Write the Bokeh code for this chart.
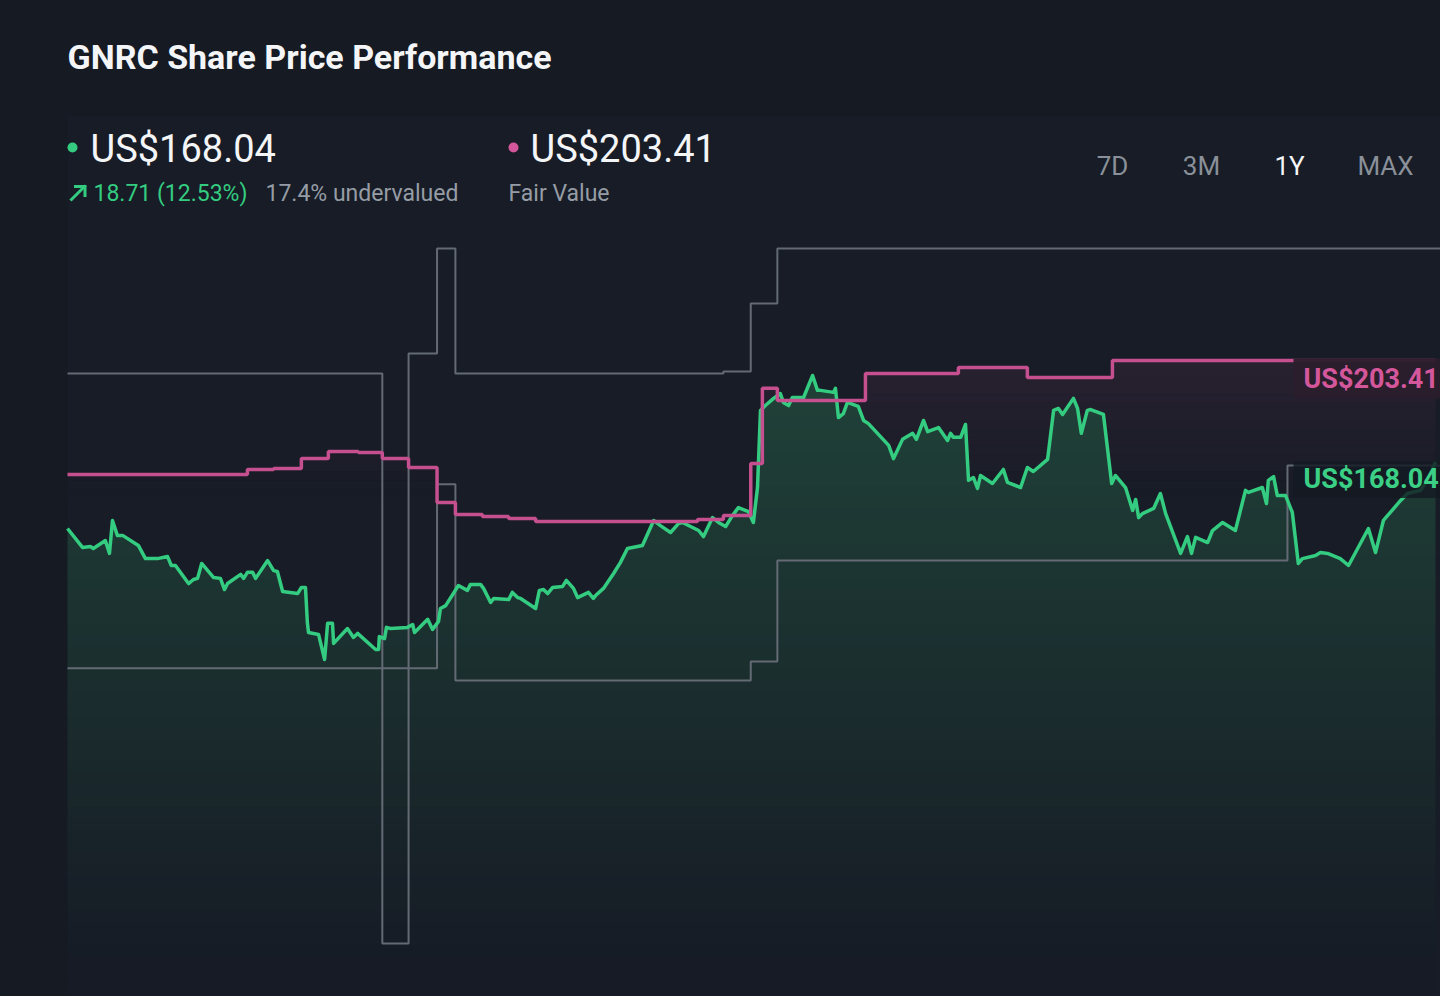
import numpy as np
from bokeh.plotting import figure
from bokeh.models import Range1d
from bokeh.core.properties import value
from bokeh.embed import file_html
from bokeh.resources import INLINE

# ---------------- data ----------------
price_days = [0, 4.0, 6.1, 6.9, 10.1, 11.2, 12.0, 13.3, 14.7, 18.9, 20.8, 24.0, 26.7, 27.7, 28.8, 32.3, 33.6, 34.7, 35.8, 39.0,
              40.8, 41.9, 42.7, 46.2, 47.0, 48.0, 49.4, 50.2, 53.4, 55.0, 56.0, 57.4, 61.4, 62.4, 63.5, 64.0, 64.3, 67.0, 68.6, 69.4,
              70.7, 71.0, 74.7, 76.3, 77.4, 82.2, 83.0, 83.2, 84.6, 85.1, 86.2, 90.7, 92.1, 92.6, 96.1, 97.4, 99.0, 99.5, 100.9, 104.3,
              106.7, 107.5, 110.2, 111.0, 112.9, 113.7, 117.7, 118.7, 120.1, 120.9, 124.9, 125.9, 127.0, 128.1, 129.4, 132.1, 133.1, 135.0, 136.1, 139.0,
              140.3, 140.9, 143.0, 145.7, 147.5, 149.4, 153.4, 156.4, 158.2, 160.9, 163.0, 164.1, 168.4, 169.7, 172.1, 173.7, 175.6, 177.4, 179.0, 181.7,
              183.0, 184.1, 184.9, 186.2, 188.4, 190.2, 191.0, 192.4, 193.4, 196.4, 198.8, 200.1, 200.9, 204.4, 204.9, 205.7, 207.0, 208.1, 211.0, 212.4,
              213.7, 219.1, 220.4, 222.8, 225.5, 226.5, 228.4, 229.5, 232.4, 234.8, 235.6, 236.4, 238.3, 239.6, 240.4, 241.7, 242.8, 243.6, 246.8, 249.7,
              250.8, 254.3, 256.1, 257.7, 261.5, 263.1, 264.4, 265.5, 268.4, 269.5, 270.5, 272.1, 273.0, 276.4, 278.6, 279.6, 282.3, 284.2, 285.0, 285.8,
              286.8, 289.8, 291.6, 293.0, 297.0, 298.8, 299.9, 301.0, 304.2, 305.5, 308.2, 311.6, 314.3, 315.1, 318.8, 319.9, 320.4, 321.8, 322.8, 325.0,
              326.8, 328.4, 329.5, 333.0, 334.3, 336.2, 339.6, 341.8, 347.1, 349.0, 351.1, 355.7, 357.5, 361.0, 363.1, 365.0]
price_vals = [144.8, 138.2, 138.5, 137.8, 140.6, 136.1, 147.6, 142.4, 142.4, 138.9, 134.3, 134.3, 135.0, 131.9, 131.9, 125.6, 127.0, 127.4, 132.6, 127.7,
              127.4, 123.5, 125.6, 128.8, 127.4, 129.5, 129.5, 127.4, 133.6, 130.1, 129.8, 122.8, 122.1, 124.2, 124.2, 112.0, 108.5, 107.8, 99.1, 111.7,
              111.7, 104.7, 109.9, 106.8, 108.2, 102.6, 102.6, 107.1, 106.4, 110.3, 109.9, 110.3, 111.3, 108.5, 113.1, 109.6, 112.4, 116.9, 117.9, 124.9,
              123.2, 125.3, 125.3, 123.9, 119.0, 120.4, 120.0, 122.5, 120.7, 120.4, 116.9, 123.2, 123.5, 122.1, 124.2, 124.6, 126.7, 123.9, 120.7, 122.5,
              120.4, 121.4, 123.9, 129.1, 132.9, 137.8, 138.9, 147.6, 145.8, 143.4, 146.5, 146.9, 144.1, 142.0, 148.6, 146.9, 145.5, 149.3, 152.1, 150.7,
              146.9, 159.1, 186.0, 187.7, 190.2, 191.9, 188.8, 187.7, 190.5, 190.5, 198.2, 193.0, 193.0, 192.3, 193.7, 183.5, 184.9, 188.8, 187.4, 182.5,
              181.4, 173.8, 169.2, 175.9, 178.0, 175.9, 182.5, 178.6, 180.0, 175.5, 178.0, 176.6, 176.6, 181.1, 161.6, 162.6, 158.8, 163.3, 160.5, 165.4,
              160.9, 159.1, 166.1, 164.7, 168.9, 186.0, 186.7, 184.6, 190.2, 186.7, 178.0, 186.0, 186.3, 184.6, 160.5, 163.3, 159.1, 151.1, 154.9, 148.6,
              150.0, 151.8, 157.0, 150.0, 136.1, 142.0, 136.1, 141.7, 139.9, 144.1, 146.9, 144.1, 158.1, 157.4, 159.1, 153.5, 161.6, 162.9, 156.3, 156.3,
              150.4, 132.6, 134.3, 135.4, 136.4, 136.1, 134.3, 131.9, 144.8, 136.4, 147.6, 154.6, 157.0, 158.1, 162.2, 168.04]

fv_days = [0, 48.0, 55.0, 62.4, 69.6, 77.6, 84.0, 91.0, 98.6, 103.5, 110.7, 117.7, 124.9, 168.1, 175.0, 182.3, 185.4, 189.4, 212.9, 237.7, 256.1, 278.8]
fv_vals = [163.6, 165.4, 165.7, 169.2, 171.7, 171.3, 169.2, 166.1, 153.9, 149.7, 149.0, 148.3, 147.2, 147.9, 149.3, 167.5, 193.7, 189.5, 198.9, 201.0, 197.5, 203.41]

hi_days = [0, 84.0, 91.0, 98.6, 103.5, 175.0, 182.3, 189.4]
hi_vals = [198.9, 0.0, 205.9, 242.5, 198.9, 199.6, 223.3, 242.5]
lo_days = [0, 98.6, 103.5, 182.3, 189.4, 325.5]
lo_vals = [96.0, 160.2, 91.8, 98.4, 133.6, 166.8]

last_price = 168.04
fair_value = 203.41
change_text = "18.71 (12.53%)"
undervalued_text = "17.4% undervalued"
ranges = ["7D", "3M", "1Y", "MAX"]
active_range = "1Y"
title_text = "GNRC Share Price Performance"

assert len(price_days) == len(price_vals)

# ---------------- layout helpers (page px -> data) ----------------
PX0, PXD = 67.0, 1368.0 / 365.0
PY0, PYK = 943.0, 2.866
def dx(px): return (px - PX0) / PXD
def dy(py): return (PY0 - py) / PYK

BG = "#151a23"
GREEN = "#34cc80"
PINK = "#c64f90"
GRAY = "#636a74"
FONT = value("Roboto")

p = figure(width=1440, height=996, output_backend="svg", toolbar_location=None,
           x_range=Range1d(dx(0), dx(1440)), y_range=Range1d(dy(996), dy(0)),
           x_axis_location=None, y_axis_location=None, min_border=0, title=None)
p.background_fill_color = BG
p.border_fill_color = BG
p.outline_line_color = None
p.xgrid.visible = False
p.ygrid.visible = False

# faint chart panel
p.quad(left=[dx(67)], right=[dx(1445)], top=[dy(115)], bottom=[dy(1000)], fill_color="#171c26", line_color=None)

pd_ = np.array(price_days, float)
pv_ = np.array(price_vals, float)
end_day = pd_[-1]

# dense grid (derived from data) for gradient bands
grid = np.union1d(np.arange(0, end_day, 0.25), pd_)
pgrid = np.interp(grid, pd_, pv_)

def lerp(c0, c1, t):
    return "#%02x%02x%02x" % tuple(int(round(a + (b - a) * t)) for a, b in zip(c0, c1))

# green gradient fill under price
top_c, bot_c = (31, 63, 55), (22, 27, 37)
edges = np.arange(dy(1000), dy(370) + 4, 4.0)
ov = 0.6
for lo, hi in zip(edges[:-1], edges[1:]):
    ymid = PY0 - (lo + hi) / 2 * PYK
    t = np.clip((ymid - 410) / (960 - 410), 0, 1)
    col = lerp(top_c, bot_c, t)
    y2 = np.clip(pgrid, lo - ov, hi)
    if np.all(y2 <= lo - ov + 1e-9):
        continue
    p.varea(x=grid, y1=np.full_like(grid, lo - ov), y2=y2, fill_color=col, fill_alpha=1.0)

# fair value step evaluated on grid, with vertical edges
fx, fy = [], []
bounds = fv_days + [end_day]
for i, v in enumerate(fv_vals):
    a, b = bounds[i], bounds[i + 1]
    seg = np.union1d(np.arange(a, b, 0.25), [a, b])
    fx.extend(seg.tolist()); fy.extend([v] * len(seg))
fx = np.array(fx); fy = np.array(fy)
pf = np.interp(fx, pd_, pv_)
tedges = np.arange(dy(600), dy(340), 3.0)
for lo, hi in zip(tedges[:-1], tedges[1:]):
    ymid = PY0 - (lo + hi) / 2 * PYK
    a = 0.10 * np.clip((500 - ymid) / 140, 0, 1)
    if a <= 0.003:
        continue
    y1 = np.clip(pf, lo, hi)
    y2 = np.maximum(np.clip(fy, lo, hi), y1)
    p.varea(x=fx, y1=y1, y2=y2, fill_color=PINK, fill_alpha=a)

# analyst range step lines
p.step(x=hi_days + [dx(1450)], y=hi_vals + [hi_vals[-1]], mode="after", line_color=GRAY, line_width=2)
p.step(x=lo_days + [dx(1450)], y=lo_vals + [lo_vals[-1]], mode="after", line_color=GRAY, line_width=2)

# price line
p.line(price_days, price_vals, line_color=GREEN, line_width=3.5, line_join="round")
# fair value line
p.step(x=fv_days + [end_day], y=fv_vals + [fv_vals[-1]], mode="after", line_color=PINK, line_width=3.5)

# right-hand value labels
bl, br = dx(1293), dx(1450)
p.quad(left=[bl], right=[br], top=[fair_value + 2 / PYK], bottom=[fair_value - 38 / PYK],
       fill_color="#2a1e2c", fill_alpha=0.95, line_color=None)
p.quad(left=[bl], right=[br], top=[last_price + 1 / PYK], bottom=[last_price - 36 / PYK],
       fill_color="#141a22", fill_alpha=0.82, line_color=None)

def txt(px, py, s, size, color, bold=False, align="left", font=FONT):
    p.text(x=[dx(px)], y=[dy(py)], text=[s], text_font=font, text_font_size=value(size),
           text_color=color, text_align=align, text_baseline="middle",
           text_font_style="bold" if bold else "normal")

txt(1303, PY0 - (fair_value - 18 / PYK) * PYK, "US$%.2f" % fair_value, "27px", "#d4579b", bold=True)
txt(1303, PY0 - (last_price - 17 / PYK) * PYK, "US$%.2f" % last_price, "27px", "#3bd085", bold=True)

# header
txt(67, 56, title_text, "34px", "#f4f5f7", bold=True)
p.scatter(x=[dx(72)], y=[dy(147)], size=10, fill_color=GREEN, line_color=None)
txt(90, 148, "US$%.2f" % last_price, "38px", "#f4f5f7")
p.scatter(x=[dx(513)], y=[dy(147)], size=10, fill_color="#d4579b", line_color=None)
txt(530, 148, "US$%.2f" % fair_value, "38px", "#f4f5f7")
# up-right arrow icon
p.multi_line(xs=[[dx(71), dx(84)], [dx(75), dx(84.5), dx(84.5)]],
             ys=[[dy(199), dy(186)], [dy(186), dy(186), dy(195)]],
             line_color=GREEN, line_width=3, line_cap="square", line_join="miter")
txt(93, 193, change_text, "23px", GREEN)
txt(265, 193, undervalued_text, "23px", "#969ca5")
txt(508, 193, "Fair Value", "23px", "#969ca5")

for cx, r in zip([1112, 1201, 1289, 1385], ranges):
    txt(cx, 165, r, "26px", "#f4f5f7" if r == active_range else "#8a9099", align="center")

html = file_html(p, INLINE)
html = html.replace("<head>", "<head><style>body{background:%s;}</style>" % BG, 1)
open("out.html", "w").write(html)
